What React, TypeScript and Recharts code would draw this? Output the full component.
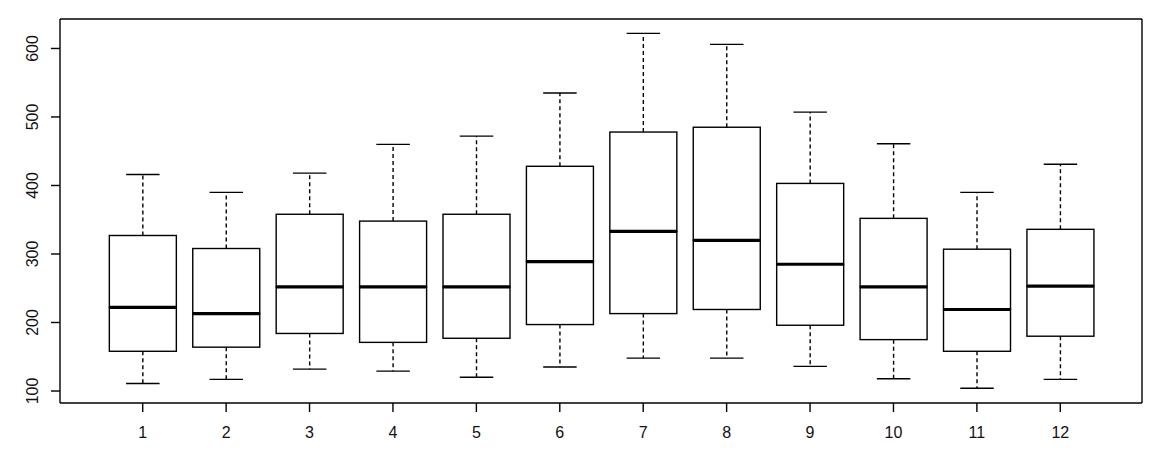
import React from "react";
import { ComposedChart, Bar, XAxis, YAxis } from "recharts";

const categories = ["1", "2", "3", "4", "5", "6", "7", "8", "9", "10", "11", "12"];
const lowerWhisker = [111, 117, 132, 129, 120, 135, 148, 148, 136, 118, 104, 117];
const q1 = [158, 164, 184, 171, 177, 197, 213, 219, 196, 175, 158, 180];
const median = [222, 213, 252, 252, 252, 289, 333, 320, 285, 252, 219, 253];
const q3 = [327, 308, 358, 348, 358, 428, 478, 485, 403, 352, 307, 336];
const upperWhisker = [416, 390, 418, 460, 472, 535, 622, 606, 507, 461, 390, 431];
const yTicks = [100, 200, 300, 400, 500, 600];

const data = categories.map((name, i) => ({
  name,
  base: lowerWhisker[i],
  lowW: q1[i] - lowerWhisker[i],
  boxLow: median[i] - q1[i],
  boxHigh: q3[i] - median[i],
  highW: upperWhisker[i] - q3[i],
}));

const LW = 1.4;
const FONT = "'Liberation Sans', Arial, sans-serif";

const LowerWhisker = (p: any) => {
  const { x, y, width, height } = p;
  const cx = x + width / 2;
  const cap = width / 4;
  return (
    <g>
      <line x1={cx} x2={cx} y1={y} y2={y + height} stroke="#000" strokeWidth={LW} strokeDasharray="4 3" />
      <line x1={cx - cap} x2={cx + cap} y1={y + height} y2={y + height} stroke="#000" strokeWidth={LW} />
    </g>
  );
};

const UpperWhisker = (p: any) => {
  const { x, y, width, height } = p;
  const cx = x + width / 2;
  const cap = width / 4;
  return (
    <g>
      <line x1={cx} x2={cx} y1={y + height} y2={y} stroke="#000" strokeWidth={LW} strokeDasharray="4 3" />
      <line x1={cx - cap} x2={cx + cap} y1={y} y2={y} stroke="#000" strokeWidth={LW} />
    </g>
  );
};

const BoxLow = (p: any) => {
  const { x, y, width, height } = p;
  return <rect x={x} y={y} width={width} height={height} fill="#fff" stroke="#000" strokeWidth={LW} />;
};

const BoxHigh = (p: any) => {
  const { x, y, width, height } = p;
  return (
    <g>
      <rect x={x} y={y} width={width} height={height} fill="#fff" stroke="#000" strokeWidth={LW} />
      <line x1={x} x2={x + width} y1={y + height} y2={y + height} stroke="#000" strokeWidth={3.2} />
    </g>
  );
};

const XTick = (p: any) => {
  const { x, y, payload } = p;
  return (
    <text x={x} y={y + 18} textAnchor="middle" dominantBaseline="central" style={{ fontFamily: FONT, fontSize: 16 }} fill="#111">
      {payload.value}
    </text>
  );
};

const YTick = (p: any) => {
  const { x, y, payload } = p;
  const tx = x - 16;
  return (
    <text
      x={tx}
      y={y}
      transform={`rotate(-90 ${tx} ${y})`}
      textAnchor="middle"
      dominantBaseline="central"
      style={{ fontFamily: FONT, fontSize: 16 }}
      fill="#111"
    >
      {payload.value}
    </text>
  );
};

export default function App() {
  return (
    <div style={{ position: "absolute", left: 0, top: 0, background: "#fff" }}>
      <ComposedChart
        width={1170}
        height={459}
        data={data}
        margin={{ top: 18, right: 27, bottom: 0, left: 0 }}
        barCategoryGap="10%"
      >
        <XAxis
          dataKey="name"
          xAxisId="main"
          interval={0}
          padding={{ left: 41, right: 40 }}
          tickSize={9}
          tickLine={{ stroke: "#000", strokeWidth: LW }}
          axisLine={{ stroke: "#000", strokeWidth: LW }}
          tick={<XTick />}
          height={56}
        />
        <XAxis
          dataKey="name"
          xAxisId="top"
          orientation="top"
          tick={false}
          tickLine={false}
          axisLine={{ stroke: "#000", strokeWidth: LW }}
          height={1}
        />
        <YAxis
          yAxisId="main"
          type="number"
          domain={[82.5, 643]}
          ticks={yTicks}
          allowDataOverflow
          interval={0}
          tickSize={9}
          tickLine={{ stroke: "#000", strokeWidth: LW }}
          axisLine={{ stroke: "#000", strokeWidth: LW }}
          tick={<YTick />}
          width={60}
        />
        <YAxis
          yAxisId="right"
          orientation="right"
          type="number"
          domain={[0, 1]}
          tick={false}
          tickLine={false}
          axisLine={{ stroke: "#000", strokeWidth: LW }}
          width={1}
        />
        <Bar dataKey="base" stackId="b" xAxisId="main" yAxisId="main" fill="none" isAnimationActive={false} shape={() => <g />} />
        <Bar dataKey="lowW" stackId="b" xAxisId="main" yAxisId="main" isAnimationActive={false} shape={<LowerWhisker />} />
        <Bar dataKey="boxLow" stackId="b" xAxisId="main" yAxisId="main" isAnimationActive={false} shape={<BoxLow />} />
        <Bar dataKey="boxHigh" stackId="b" xAxisId="main" yAxisId="main" isAnimationActive={false} shape={<BoxHigh />} />
        <Bar dataKey="highW" stackId="b" xAxisId="main" yAxisId="main" isAnimationActive={false} shape={<UpperWhisker />} />
        <Bar dataKey="base" xAxisId="top" yAxisId="right" fill="none" isAnimationActive={false} shape={() => <g />} />
      </ComposedChart>
    </div>
  );
}
